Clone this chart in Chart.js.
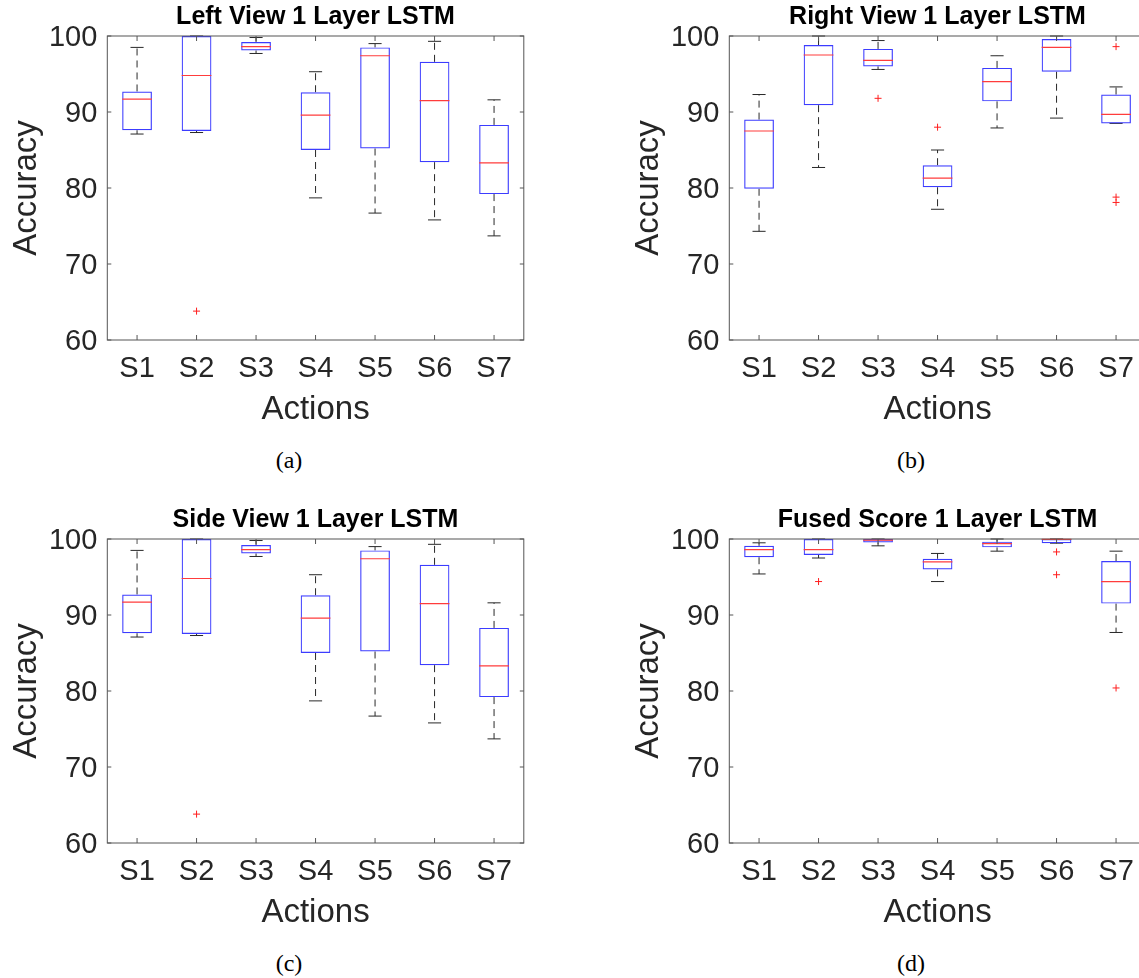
<!DOCTYPE html>
<html lang="en">
<head>
<meta charset="UTF-8">
<title>1 Layer LSTM - Accuracy per Action</title>
<script src="https://cdn.jsdelivr.net/npm/chart.js"></script>
<style>
  html, body { margin: 0; padding: 0; background: #fff; }
  body { width: 1139px; height: 978px; overflow: hidden; position: relative; }
  canvas { position: absolute; }
  .caption {
    position: absolute; width: 80px; margin-left: -40px; text-align: center;
    font: 24px "Liberation Serif", "Times New Roman", serif; line-height: 24px; color: #000;
  }
</style>
</head>
<body>
<canvas id="chartA" width="631" height="430" style="left:0;top:0"></canvas>
<canvas id="chartB" width="631" height="430" style="left:622px;top:0"></canvas>
<canvas id="chartC" width="631" height="430" style="left:0;top:503px"></canvas>
<canvas id="chartD" width="631" height="430" style="left:622px;top:503px"></canvas>
<div class="caption" style="left:289px;top:448px">(a)</div>
<div class="caption" style="left:911px;top:448px">(b)</div>
<div class="caption" style="left:289px;top:951px">(c)</div>
<div class="caption" style="left:911px;top:951px">(d)</div>

<script>
const actions = ['S1', 'S2', 'S3', 'S4', 'S5', 'S6', 'S7'];
const yTicks = [60, 70, 80, 90, 100];

// (a) left view: upper whisker, box top, median, box bottom, lower whisker
const leftMax = [98.5, 100, 99.8, 95.3, 99.0, 99.3, 91.6];
const leftQ3  = [92.7, 100, 99.2, 92.6, 98.5, 96.6, 88.3];
const leftMed = [91.7, 94.8, 98.6, 89.6, 97.4, 91.5, 83.3];
const leftQ1  = [87.6, 87.5, 98.1, 85.0, 85.2, 83.4, 79.2];
const leftMin = [87.1, 87.3, 97.7, 78.7, 76.7, 75.8, 73.7];
const leftOut = [['S2', 63.8]];

// (b) right view
const rightMax = [92.3, 100, 99.4, 85.0, 97.4, 100, 93.3];
const rightQ3  = [89.0, 98.8, 98.3, 83.0, 95.8, 99.6, 92.3];
const rightMed = [87.5, 97.5, 96.8, 81.3, 94.0, 98.5, 89.7];
const rightQ1  = [79.9, 90.9, 96.0, 80.1, 91.4, 95.3, 88.5];
const rightMin = [74.3, 82.7, 95.6, 77.2, 87.9, 89.2, 88.5];
const rightOut = [['S3', 91.8], ['S4', 88.0], ['S7', 98.6], ['S7', 78.8], ['S7', 78.1]];

// (c) side view
const sideMax = [98.5, 100, 99.8, 95.3, 99.0, 99.3, 91.6];
const sideQ3  = [92.7, 100, 99.2, 92.6, 98.5, 96.6, 88.3];
const sideMed = [91.7, 94.8, 98.6, 89.6, 97.4, 91.5, 83.3];
const sideQ1  = [87.6, 87.5, 98.1, 85.0, 85.2, 83.4, 79.2];
const sideMin = [87.1, 87.3, 97.7, 78.7, 76.7, 75.8, 73.7];
const sideOut = [['S2', 63.8]];

// (d) fused score
const fusedMax = [99.5, 100, 100, 98.1, 100, 100, 98.4];
const fusedQ3  = [99.1, 100, 100, 97.4, 99.65, 100, 97.1];
const fusedMed = [98.6, 98.6, 99.85, 97.0, 99.4, 99.95, 94.4];
const fusedQ1  = [97.6, 97.9, 99.55, 96.0, 98.9, 99.45, 91.5];
const fusedMin = [95.4, 97.5, 99.1, 94.4, 98.4, 99.45, 87.7];
const fusedOut = [['S2', 94.4], ['S6', 98.3], ['S6', 95.3], ['S7', 80.4]];

Chart.defaults.font.family = '"Liberation Sans", Arial, Helvetica, sans-serif';
Chart.defaults.animation = false;

const axisColor = '#262626';

// whiskers, caps, medians and the matlab-style frame with inward ticks
function boxPlugin(maxs, q3s, meds, q1s, mins) {
  return {
    id: 'boxWhiskers',
    beforeDatasetsDraw(chart) {
      const {ctx, scales: {x, y}} = chart;
      const step = x.getPixelForValue(1) - x.getPixelForValue(0);
      const cap = step * 0.11;
      ctx.save();
      ctx.strokeStyle = 'rgb(40,40,40)';
      ctx.lineWidth = 1;
      actions.forEach((a, i) => {
        const px = x.getPixelForValue(i);
        ctx.setLineDash([7, 5]);
        ctx.beginPath();
        ctx.moveTo(px, y.getPixelForValue(q3s[i]));
        ctx.lineTo(px, y.getPixelForValue(maxs[i]));
        ctx.moveTo(px, y.getPixelForValue(q1s[i]));
        ctx.lineTo(px, y.getPixelForValue(mins[i]));
        ctx.stroke();
        ctx.setLineDash([]);
        ctx.beginPath();
        [maxs[i], mins[i]].forEach(v => {
          const py = y.getPixelForValue(v);
          ctx.moveTo(px - cap, py);
          ctx.lineTo(px + cap, py);
        });
        ctx.stroke();
      });
      ctx.restore();
    },
    afterDatasetsDraw(chart) {
      const {ctx, scales: {y}} = chart;
      const bars = chart.getDatasetMeta(0).data;
      ctx.save();
      ctx.strokeStyle = 'rgb(255,60,60)';
      ctx.lineWidth = 1.2;
      ctx.beginPath();
      bars.forEach((bar, i) => {
        const py = y.getPixelForValue(meds[i]);
        ctx.moveTo(bar.x - bar.width / 2, py);
        ctx.lineTo(bar.x + bar.width / 2, py);
      });
      ctx.stroke();
      ctx.restore();
    },
    afterDraw(chart) {
      const {ctx, chartArea: a, scales: {x, y}} = chart;
      ctx.save();
      ctx.strokeStyle = '#555';
      ctx.lineWidth = 1;
      ctx.strokeRect(a.left, a.top, a.width, a.height);
      ctx.beginPath();
      y.ticks.forEach((t, i) => {
        const py = y.getPixelForTick(i);
        ctx.moveTo(a.left, py); ctx.lineTo(a.left + 4, py);
        ctx.moveTo(a.right, py); ctx.lineTo(a.right - 4, py);
      });
      x.ticks.forEach((t, i) => {
        const px = x.getPixelForTick(i);
        ctx.moveTo(px, a.bottom); ctx.lineTo(px, a.bottom - 5);
        ctx.moveTo(px, a.top); ctx.lineTo(px, a.top + 5);
      });
      ctx.stroke();
      ctx.restore();
    }
  };
}

function makeChart(id, title, maxs, q3s, meds, q1s, mins, outs) {
  return new Chart(document.getElementById(id), {
    type: 'bar',
    data: {
      labels: actions,
      datasets: [{
        label: 'box',
        data: actions.map((a, i) => [q1s[i], q3s[i]]),
        backgroundColor: 'rgba(0,0,0,0)',
        borderColor: 'rgb(60,60,255)',
        borderWidth: 1.2,
        borderSkipped: false,
        barPercentage: 0.5,
        categoryPercentage: 1.0
      }, {
        type: 'line',
        label: 'outliers',
        data: outs.map(o => ({x: o[0], y: o[1]})),
        showLine: false,
        pointStyle: 'cross',
        pointRadius: 3.5,
        borderColor: 'rgb(255,30,30)',
        borderWidth: 1
      }]
    },
    options: {
      responsive: false,
      plugins: {
        legend: {display: false},
        tooltip: {enabled: false},
        title: {
          display: true,
          text: title,
          color: '#000',
          font: {size: 25, weight: 'bold'},
          padding: {top: 2.6, bottom: 3.4}
        }
      },
      scales: {
        x: {
          offset: true,
          grid: {display: false, drawTicks: false},
          border: {display: false},
          ticks: {color: axisColor, font: {size: 29}, padding: 11.9, maxRotation: 0, autoSkip: false},
          title: {display: true, text: 'Actions', color: axisColor, font: {size: 33}, padding: 0},
          afterFit(s) { s.height = 90; }
        },
        y: {
          min: 60,
          max: 100,
          afterBuildTicks(s) { s.ticks = yTicks.map(v => ({value: v})); },
          grid: {display: false, drawTicks: false},
          border: {display: false},
          ticks: {color: axisColor, font: {size: 29}, padding: 10, labelOffset: 2},
          title: {display: true, text: 'Accuracy', color: axisColor, font: {size: 33}, padding: {top: 7, bottom: 0}},
          afterFit(s) { s.width = 107.3; }
        },
        yRight: {
          position: 'right',
          min: 60,
          max: 100,
          grid: {display: false, drawTicks: false},
          border: {display: false},
          ticks: {display: false},
          afterFit(s) { s.width = 107.2; }
        }
      }
    },
    plugins: [boxPlugin(maxs, q3s, meds, q1s, mins)]
  });
}

makeChart('chartA', 'Left View 1 Layer LSTM', leftMax, leftQ3, leftMed, leftQ1, leftMin, leftOut);
makeChart('chartB', 'Right View 1 Layer LSTM', rightMax, rightQ3, rightMed, rightQ1, rightMin, rightOut);
makeChart('chartC', 'Side View 1 Layer LSTM', sideMax, sideQ3, sideMed, sideQ1, sideMin, sideOut);
makeChart('chartD', 'Fused Score 1 Layer LSTM', fusedMax, fusedQ3, fusedMed, fusedQ1, fusedMin, fusedOut);
</script>
</body>
</html>
